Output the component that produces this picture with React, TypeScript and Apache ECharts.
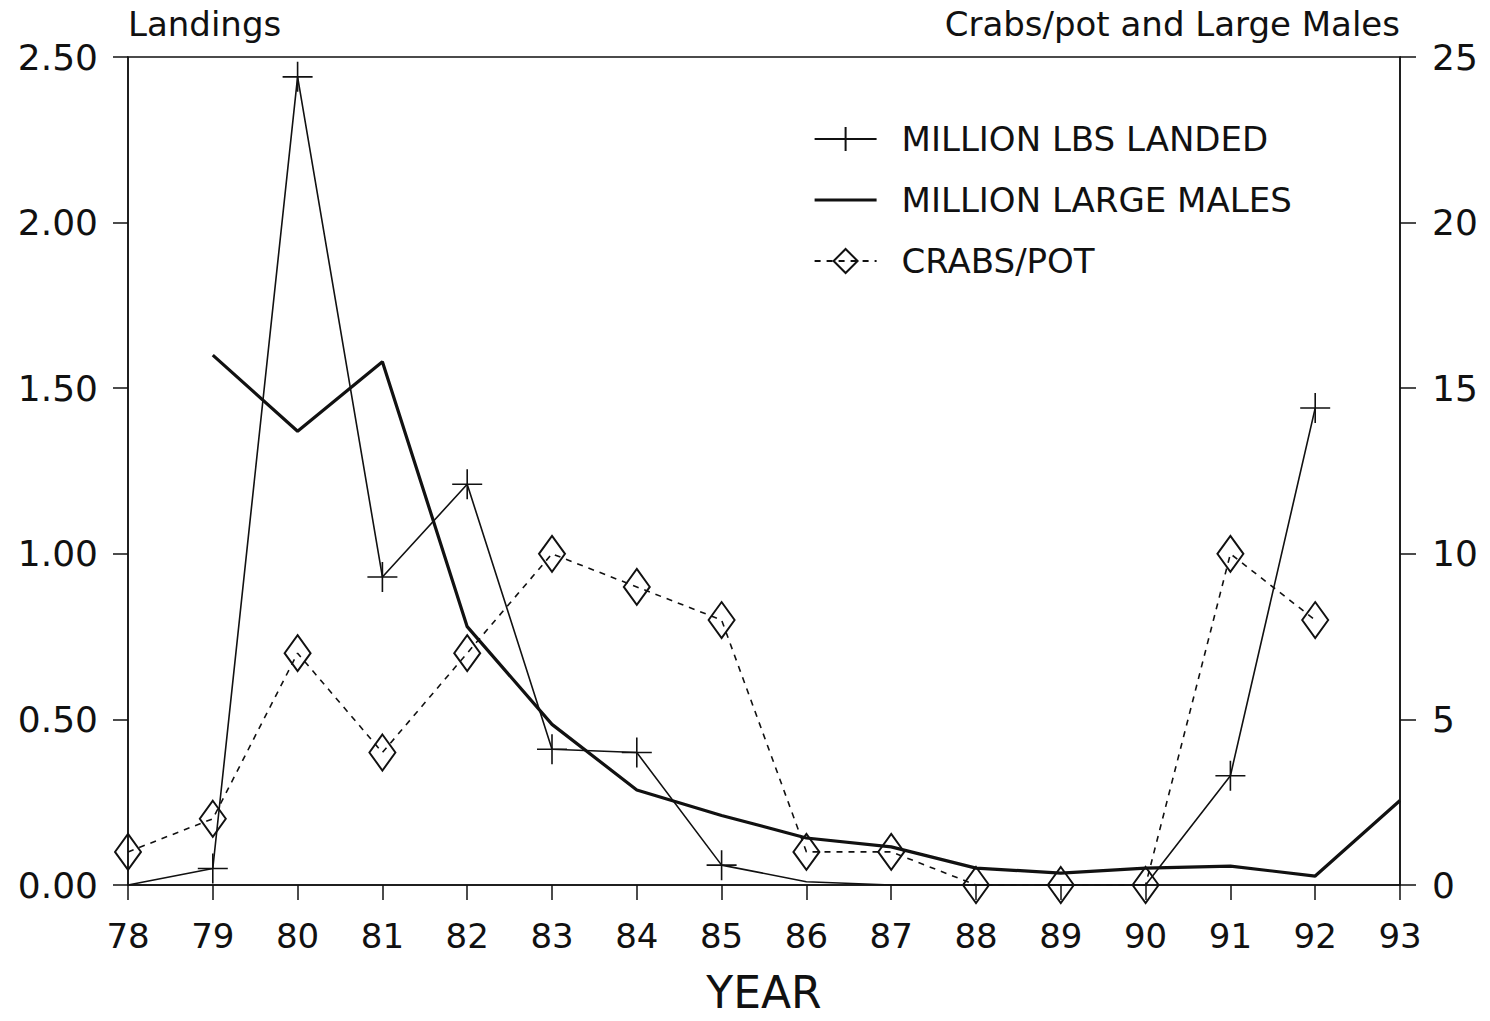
import React, { useEffect, useRef } from "react";
import * as echarts from "echarts";

const years = [78, 79, 80, 81, 82, 83, 84, 85, 86, 87, 88, 89, 90, 91, 92, 93];
const landed = [0, 0.05, 2.44, 0.93, 1.21, 0.41, 0.4, 0.06, 0.01, 0, 0, 0, 0, 0.33, 1.44, null];
const landedMarker = [false, true, true, true, true, true, true, true, false, false, false, false, false, true, true, false];
const largeMales = [null, 16.0, 13.7, 15.8, 7.8, 4.85, 2.87, 2.1, 1.42, 1.15, 0.51, 0.36, 0.51, 0.57, 0.27, 2.55];
const crabsPerPot = [1, 2, 7, 4, 7, 10, 9, 8, 1, 1, 0, 0, 0, 10, 8, null];
const leftTicks = { min: 0, max: 2.5, interval: 0.5 };
const rightTicks = { min: 0, max: 25, interval: 5 };

const FONT = "DejaVu Sans";
const INK = "#111";
const PLUS = "path://M0,10L20,10M10,0L10,20";

export default function App() {
  const ref = useRef<HTMLDivElement>(null);
  useEffect(() => {
    if (!ref.current) return;
    const chart = echarts.init(ref.current, undefined, { renderer: "svg" });
    const landedData = years
      .map((y, i) => ({ y, v: landed[i], m: landedMarker[i] }))
      .filter((d) => d.v !== null)
      .map((d) => (d.m ? { value: [d.y, d.v] } : { value: [d.y, d.v], symbol: "none" }));
    const malesData = years
      .map((y, i) => [y, largeMales[i]])
      .filter((d) => d[1] !== null);
    const crabsData = years
      .map((y, i) => [y, crabsPerPot[i]])
      .filter((d) => d[1] !== null);

    chart.setOption({
      animation: false,
      backgroundColor: "#fff",
      textStyle: { fontFamily: FONT, color: INK },
      grid: {
        left: 128,
        right: 90,
        top: 57,
        bottom: 136,
        outerBoundsMode: "none",
        containLabel: false,
        show: true,
        borderColor: INK,
        borderWidth: 1.5,
        backgroundColor: "transparent",
      },
      legend: {
        left: 808,
        top: 117,
        orient: "vertical",
        itemWidth: 62,
        itemHeight: 30,
        itemGap: 27,
        textStyle: { fontFamily: FONT, fontSize: 34, color: INK, lineHeight: 30, padding: [0, 0, 0, 20] },
        data: [
          { name: "MILLION LBS LANDED" },
          { name: "MILLION LARGE MALES", itemStyle: { opacity: 0 }, lineStyle: { width: 3.2 } },
          { name: "CRABS/POT" },
        ],
      },
      xAxis: {
        type: "value",
        min: 78,
        max: 93,
        interval: 1,
        name: "YEAR",
        nameLocation: "middle",
        nameGap: 84,
        nameTextStyle: { fontFamily: FONT, fontSize: 44, color: INK, lineHeight: 46 },
        axisLine: { lineStyle: { color: INK, width: 1.5 } },
        axisTick: { show: true, length: 15, lineStyle: { color: INK, width: 1.5 } },
        axisLabel: { fontFamily: FONT, fontSize: 34, color: INK, margin: 34 },
        splitLine: { show: false },
      },
      yAxis: [
        {
          type: "value",
          position: "left",
          min: leftTicks.min,
          max: leftTicks.max,
          interval: leftTicks.interval,
          name: "Landings",
          nameLocation: "end",
          nameGap: 33,
          nameTextStyle: { fontFamily: FONT, fontSize: 34, color: INK, align: "left", verticalAlign: "middle" },
          axisLine: { show: true, lineStyle: { color: INK, width: 1.5 } },
          axisTick: { show: true, length: 15, lineStyle: { color: INK, width: 1.5 } },
          axisLabel: {
            fontFamily: FONT,
            fontSize: 36,
            color: INK,
            margin: 30,
            formatter: (v: number) => v.toFixed(2),
          },
          splitLine: { show: false },
        },
        {
          type: "value",
          position: "right",
          min: rightTicks.min,
          max: rightTicks.max,
          interval: rightTicks.interval,
          name: "Crabs/pot and Large Males",
          nameLocation: "end",
          nameGap: 33,
          nameTextStyle: { fontFamily: FONT, fontSize: 34, color: INK, align: "right", verticalAlign: "middle" },
          axisLine: { show: true, lineStyle: { color: INK, width: 1.5 } },
          axisTick: { show: true, length: 16, lineStyle: { color: INK, width: 1.5 } },
          axisLabel: { fontFamily: FONT, fontSize: 36, color: INK, margin: 32 },
          splitLine: { show: false },
        },
      ],
      series: [
        {
          name: "MILLION LBS LANDED",
          type: "line",
          yAxisIndex: 0,
          data: landedData,
          symbol: PLUS,
          symbolSize: 30,
          showAllSymbol: true,
          lineStyle: { color: INK, width: 1.6 },
          itemStyle: { color: INK, borderColor: INK, borderWidth: 1.6 },
          z: 3,
        },
        {
          name: "MILLION LARGE MALES",
          type: "line",
          yAxisIndex: 1,
          data: malesData,
          symbol: "none",
          lineStyle: { color: INK, width: 3.2 },
          itemStyle: { color: INK },
          z: 2,
        },
        {
          name: "CRABS/POT",
          type: "line",
          yAxisIndex: 1,
          data: crabsData,
          symbol: "diamond",
          symbolSize: [26, 36],
          showAllSymbol: true,
          lineStyle: { color: INK, width: 1.6, type: [6, 6] },
          itemStyle: { color: "rgba(255,255,255,0)", borderColor: INK, borderWidth: 2 },
          z: 4,
        },
      ],
    });
    return () => chart.dispose();
  }, []);
  return (
    <div
      ref={ref}
      style={{ position: "fixed", left: 0, top: 0, width: 1490, height: 1021, background: "#fff" }}
    />
  );
}
